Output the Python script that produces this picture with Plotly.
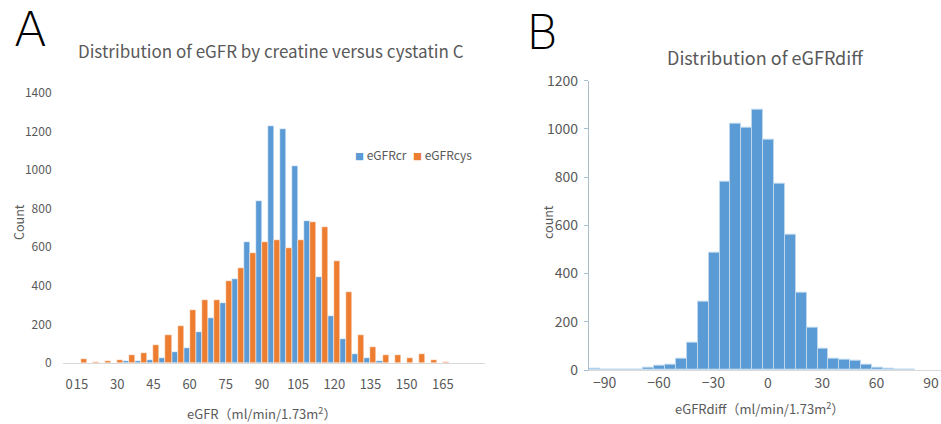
import plotly.graph_objects as go

# ---------------- Panel A data ----------------
categories = ["0"] + [str(v) for v in range(15, 181, 5)]
egfr_cr = [0, 0, 0, 0, 0, 8, 8, 17, 24, 57, 78, 161, 235, 311, 437, 626, 840,
           1229, 1212, 1023, 738, 448, 244, 123, 47, 24, 10, 2, 0, 0, 0, 0, 0, 0, 0]
egfr_cys = [0, 20, 5, 10, 15, 40, 52, 92, 145, 194, 277, 325, 325, 423, 495, 572,
            626, 638, 595, 638, 733, 707, 529, 366, 145, 85, 41, 41, 28, 45, 16, 3, 0, 0, 0]
a_tick_labels = ["0", "15", "30", "45", "60", "75", "90", "105", "120", "135", "150", "165"]

# ---------------- Panel B data ----------------
diff_bin_centers = [-95.6 + 6 * k for k in range(30)]
diff_counts = [5, 3, 2, 0, 0, 11, 17, 21, 48, 115, 283, 487, 781, 1020, 1005, 1078,
               954, 774, 560, 322, 177, 90, 48, 41, 37, 23, 10, 6, 3, 1]
b_tick_vals = [-90, -60, -30, 0, 30, 60, 90]

BLUE = "#5B9BD5"
ORANGE = "#ED7D31"
GRAY = "#595959"
FONT = "Noto Sans CJK SC, Noto Sans, sans-serif"
W, H = 941, 424

def px(x):
    return x / W

def py(y):
    return 1 - y / H

fig = go.Figure()
fig.add_trace(go.Bar(x=categories, y=egfr_cr, name="eGFRcr", showlegend=False,
                     marker=dict(color=BLUE, line=dict(color="white", width=0.5)),
                     xaxis="x", yaxis="y"))
fig.add_trace(go.Bar(x=categories, y=egfr_cys, name="eGFRcys", showlegend=False,
                     marker=dict(color=ORANGE, line=dict(color="white", width=0.5)),
                     xaxis="x", yaxis="y"))
fig.add_trace(go.Bar(x=diff_bin_centers, y=diff_counts, name="eGFRdiff", showlegend=False,
                     marker=dict(color=BLUE, line=dict(color="#BDD7EE", width=1)),
                     xaxis="x2", yaxis="y2"))

fig.update_layout(
    width=W, height=H,
    margin=dict(l=0, r=0, t=0, b=0, autoexpand=False),
    paper_bgcolor="white", plot_bgcolor="white",
    barmode="group", bargap=0, bargroupgap=0,
    showlegend=False,
    font=dict(family=FONT, color=GRAY),
    xaxis=dict(domain=[px(63), px(485)], anchor="y", type="category", automargin=False,
               categoryorder="array", categoryarray=categories,
               range=[-0.5, len(categories) - 0.5],
               tickmode="array", tickvals=a_tick_labels, ticktext=a_tick_labels, tickangle=0,
               showline=True, linecolor="#D9D9D9", linewidth=1, showgrid=False,
               ticks="outside", ticklen=9, tickcolor="rgba(0,0,0,0)",
               tickfont=dict(family=FONT, size=13, color=GRAY), zeroline=False),
    yaxis=dict(domain=[py(363), py(93)], anchor="x", range=[0, 1400], dtick=200, automargin=False,
               showgrid=False, showline=False, zeroline=False,
               ticks="outside", ticklen=8, tickcolor="rgba(0,0,0,0)",
               tickfont=dict(family=FONT, size=12, color=GRAY)),
    xaxis2=dict(domain=[px(589), 1.0], anchor="y2", range=[-98.6, 95.5], automargin=False,
                tickmode="array", tickvals=b_tick_vals, tickangle=0,
                showline=True, linecolor="#D9D9D9", linewidth=1, showgrid=False,
                ticks="", tickfont=dict(family=FONT, size=14, color=GRAY), zeroline=False),
    yaxis2=dict(domain=[py(370), py(80.7)], anchor="x2", range=[0, 1200], dtick=200, automargin=False,
                showgrid=False, showline=True, linecolor="#A9BFCC", linewidth=1,
                ticks="outside", ticklen=4, tickcolor="#A9BFCC", zeroline=False,
                ticksuffix=" ",
                tickfont=dict(family=FONT, size=14, color=GRAY)),
)

ann = [
    dict(text="A", x=px(12), y=py(29), xanchor="left", yanchor="middle",
         font=dict(family="DejaVu Sans", size=48, color="black", weight=200)),
    dict(text="B", x=px(524), y=py(32), xanchor="left", yanchor="middle",
         font=dict(family="DejaVu Sans", size=48, color="black", weight=200)),
    dict(text="Distribution of eGFR by creatine versus cystatin C", x=px(271), y=py(51),
         xanchor="center", yanchor="middle", font=dict(family=FONT, size=17, color=GRAY)),
    dict(text="Distribution of eGFRdiff", x=px(765), y=py(57),
         xanchor="center", yanchor="middle", font=dict(family=FONT, size=18, color=GRAY)),
    dict(text="Count", x=px(18), y=py(222), textangle=-90, xanchor="center", yanchor="middle",
         font=dict(family=FONT, size=12.5, color=GRAY)),
    dict(text="count", x=px(547), y=py(222), textangle=-90, xanchor="center", yanchor="middle",
         font=dict(family=FONT, size=12.5, color=GRAY)),
    dict(text="eGFR（ml/min/1.73m<sup>2</sup>）", x=px(261), y=py(413), xanchor="center", yanchor="middle",
         font=dict(family=FONT, size=13, color=GRAY)),
    dict(text="eGFRdiff（ml/min/1.73m<sup>2</sup>）", x=px(759), y=py(408), xanchor="center", yanchor="middle",
         font=dict(family=FONT, size=13, color=GRAY)),
    # legend entries
    dict(text="<span style='color:%s;font-size:9px'>■</span> eGFRcr" % BLUE, x=px(353), y=py(154),
         xanchor="left", yanchor="middle", font=dict(family=FONT, size=12, color=GRAY)),
    dict(text="<span style='color:%s;font-size:9px'>■</span> eGFRcys" % ORANGE, x=px(411), y=py(154),
         xanchor="left", yanchor="middle", font=dict(family=FONT, size=12, color=GRAY)),
]
for a in ann:
    a.update(xref="paper", yref="paper", showarrow=False)
fig.update_layout(annotations=ann)

fig.write_html("out.html", config={"displayModeBar": False},
               post_script="document.body.style.margin='0';document.body.style.overflow='hidden';")
